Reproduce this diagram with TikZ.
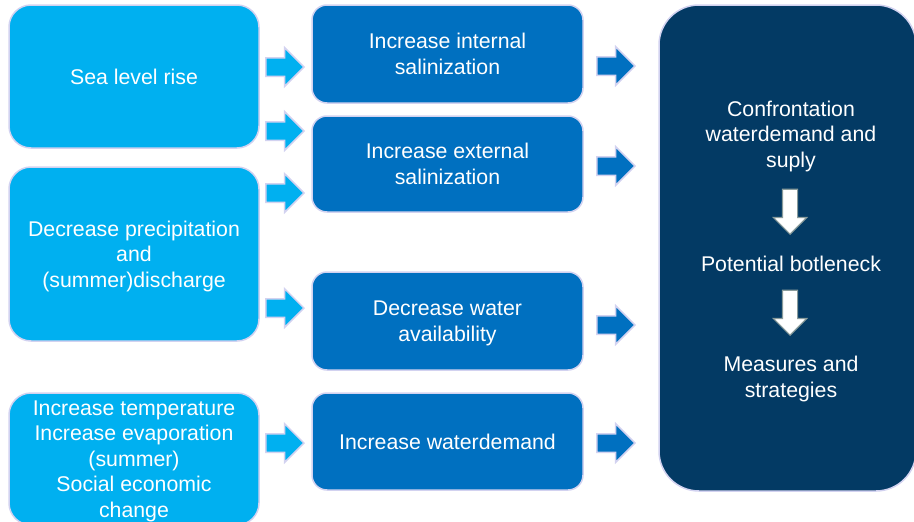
\documentclass[tikz,border=0pt]{standalone}
\usepackage{fontspec}
\setmainfont{Liberation Sans}
\usetikzlibrary{shapes,arrows,positioning,calc}
\definecolor{LBSky}{HTML}{00B0F0}
\definecolor{MBOcean}{HTML}{0070C0}
\definecolor{DBNavy}{HTML}{033A64}
\definecolor{LVEdge}{HTML}{D2D2F0}
\definecolor{GYRim}{HTML}{8A9C9C}
\tikzset{
    cause/.style = {draw=LVEdge, line width=1.5pt, fill=LBSky, 
        rounded corners=22pt, text=white, align=center, text depth=0pt,
        minimum width=250pt, inner sep=0pt},
    effect/.style = {cause, fill=MBOcean, rounded corners=15pt,
        minimum width=271pt},
    larrow/.style = {single arrow, anchor=tip, draw=LVEdge, line width=1.5pt, fill=LBSky,
        inner sep=8.5pt, single arrow head extend=10pt, minimum height=38pt},
    rarrow/.style = {larrow, fill=MBOcean},
    darrow/.style = {single arrow, anchor=tip, rotate=-90, draw=GYRim, line width=1.2pt,
        fill=white, inner sep=7pt, single arrow head extend=9pt, minimum height=45pt}
}

\begin{document}
\begin{tikzpicture}[x=1pt, y=-1pt, every node/.style={font=\fontsize{21.3}{25.5}\selectfont}]
        \useasboundingbox (0,0) rectangle (914,522);
        % drivers
        \node [cause, minimum height=143pt] (sealevel) at (134,76.5) {Sea level rise};
        \node [cause, minimum height=174pt] (precip) at (134,254) {Decrease precipitation\\and\\(summer)discharge};
        \node [cause, minimum height=132pt] (temp) at (134,459) {Increase temperature\\Increase evaporation\\(summer)\\Social economic\\change};
        % effects
        \node [effect, minimum height=98pt] (intsal) at (447.5,54) {Increase internal\\salinization};
        \node [effect, minimum height=96pt] (extsal) at (447.5,164) {Increase external\\salinization};
        \node [effect, minimum height=98pt] (avail) at (447.5,321) {Decrease water\\availability};
        \node [effect, minimum height=97pt] (demand) at (447.5,441.5) {Increase waterdemand};
        % confrontation block
        \node [draw=LVEdge, line width=1.5pt, fill=DBNavy, rounded corners=40pt,
            minimum width=257pt, minimum height=486pt, inner sep=0pt] (confblock) at (787.5,248) {};
        \node [text=white, align=center] (confront) at (791,136) {Confrontation\\waterdemand and\\suply};
        \node [text=white, align=center] (botl) at (791,264) {Potential botleneck};
        \node [text=white, align=center] (measures) at (791,379) {Measures and\\strategies};
        \node [darrow] (down1) at (790,235) {};
        \node [darrow] (down2) at (790,336) {};
        % block arrows
        \foreach \y in {67,131,193,308,443}{
            \node [larrow] (la\y) at (305,\y) {};
        }
        \foreach \y in {66,166,325,443}{
            \node [rarrow] (ra\y) at (636,\y) {};
        }
\end{tikzpicture}
\end{document}
